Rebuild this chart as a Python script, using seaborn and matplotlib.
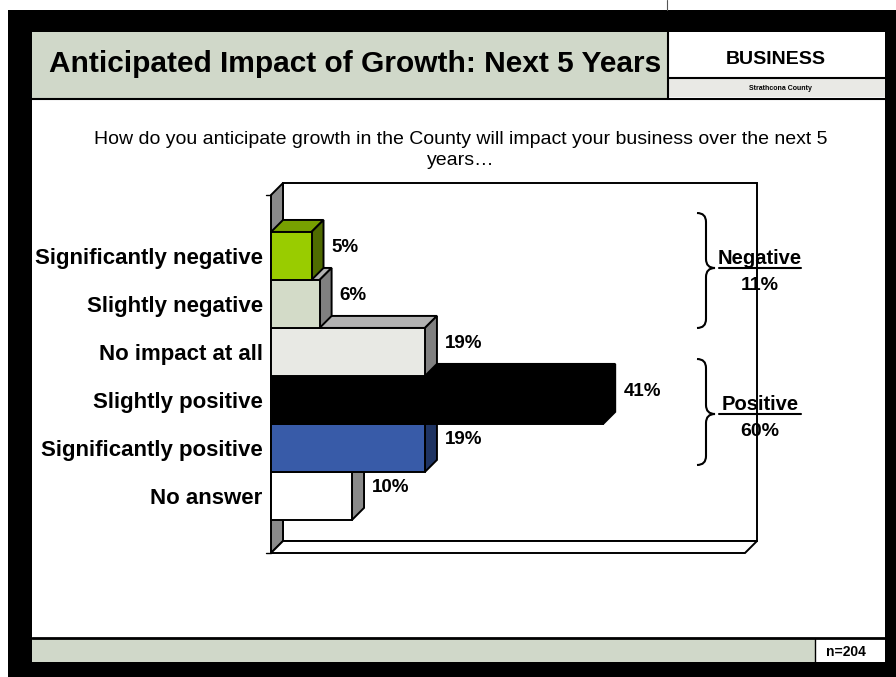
import matplotlib
matplotlib.use("Agg")
import matplotlib.pyplot as plt
import seaborn as sns
import pandas as pd
from matplotlib.patches import Rectangle, Polygon, PathPatch
from matplotlib.path import Path

# data
categories = ["Significantly negative", "Slightly negative", "No impact at all",
              "Slightly positive", "Significantly positive", "No answer"]
percent = [5, 6, 19, 41, 19, 10]
front_colors = ["#99cc00", "#d3dbc8", "#e8e9e4", "#000000", "#385ba8", "#ffffff"]
top_colors = ["#77a000", "#b2b2b2", "#b2b2b2", "#000000", "#2b4784", "#b2b2b2"]
side_colors = ["#4f6b00", "#808080", "#808080", "#000000", "#1f3463", "#8a8a8a"]
group_names = ["Negative", "Positive"]
group_percent = [11, 60]
sample_note = "n=204"

sns.set_theme(style="white")
plt.rcParams["font.family"] = ["Liberation Sans", "DejaVu Sans"]
plt.rcParams["text.color"] = "black"
plt.rcParams["ytick.color"] = "black"
plt.rcParams["xtick.color"] = "black"
plt.rcParams["axes.labelcolor"] = "black"

W, H = 896, 677
fig = plt.figure(figsize=(W / 100, H / 100), dpi=100)

# background / slide frame in pixel coords
deco = fig.add_axes([0, 0, 1, 1], zorder=0)
deco.set_xlim(0, W)
deco.set_ylim(H, 0)
deco.axis("off")


def box(x0, y0, x1, y1, fc, ec="none", lw=0):
    deco.add_patch(Rectangle((x0, y0), x1 - x0, y1 - y0, facecolor=fc, edgecolor=ec, linewidth=lw))


box(8, 10, W, H, "black")
box(32, 32, 885, 662, "white")
box(32, 32, 668, 99, "#d0d8c9")
box(668, 79, 885, 97, "#e9e9e5")
deco.plot([668, 885], [78, 78], color="black", lw=1.5)
deco.plot([32, 885], [99, 99], color="black", lw=1.5)
deco.plot([668, 668], [32, 99], color="black", lw=1.5)
deco.plot([667, 667], [0, 10], color="#555555", lw=0.8)
box(32, 639, 885, 662, "#d0d8c9")
box(815, 639, 885, 662, "white")
deco.plot([32, 885], [638, 638], color="black", lw=2)
deco.plot([815, 815], [639, 662], color="black", lw=1)

deco.text(355, 64, "Anticipated Impact of Growth: Next 5 Years", fontsize=21.5,
          fontweight="bold", ha="center", va="center")
deco.text(776, 60, "BUSINESS", fontsize=14, fontweight="bold", ha="center", va="center")
deco.text(780, 88, "Strathcona County", fontsize=5, fontweight="bold", ha="center", va="center")
deco.text(846, 652, sample_note, fontsize=10, fontweight="bold", ha="center", va="center")
deco.text(461, 150, "How do you anticipate growth in the County will impact your business over the next 5\nyears\u2026",
          fontsize=14, ha="center", va="center", linespacing=1.38)


def brace(x, y0, ym, y1, w=18, r=9):
    verts = [(x, y0), (x + w / 2, y0), (x + w / 2, y0 + r),
             (x + w / 2, ym - r), (x + w / 2, ym), (x + w, ym),
             (x + w / 2, ym), (x + w / 2, ym + r),
             (x + w / 2, y1 - r), (x + w / 2, y1), (x, y1)]
    codes = [Path.MOVETO, Path.CURVE3, Path.CURVE3, Path.LINETO, Path.CURVE3, Path.CURVE3,
             Path.CURVE3, Path.CURVE3, Path.LINETO, Path.CURVE3, Path.CURVE3]
    deco.add_patch(PathPatch(Path(verts, codes), facecolor="none", edgecolor="black", lw=1.5))


brace_spans = [(213, 268, 328), (359, 414, 465)]
for name, val, (y0, ym, y1) in zip(group_names, group_percent, brace_spans):
    brace(697, y0, ym, y1)
    deco.text(760, ym - 10, name, fontsize=14.5, fontweight="bold", ha="center", va="center")
    deco.plot([719, 801], [ym, ym], color="black", lw=1.5)
    deco.text(760, ym + 18, f"{val}%", fontsize=14, fontweight="bold", ha="center", va="center")

# main 3D-looking bar chart
ax = fig.add_axes([271 / W, 1 - 553 / H, 474 / W, 358 / H], zorder=1)
ax.patch.set_alpha(0)
df = pd.DataFrame({"category": categories, "percent": percent})
sns.barplot(data=df, x="percent", y="category", hue="category", palette=front_colors,
            saturation=1, width=1.0, edgecolor="black", linewidth=1.4, legend=False,
            orient="h", ax=ax)

xmax = 58.5
ylo, yhi = -1.27, 6.19
ax.set_xlim(0, xmax)
ax.set_ylim(yhi, ylo)
dx = 12 / 474 * xmax
dy = 12 / 358 * (yhi - ylo)

# walls and floor
ax.add_patch(Polygon([(dx, ylo - dy), (xmax + dx, ylo - dy), (xmax + dx, yhi - dy), (dx, yhi - dy)],
                     closed=True, facecolor="none", edgecolor="black", lw=1.4, clip_on=False, zorder=1))
ax.add_patch(Polygon([(0, ylo), (dx, ylo - dy), (dx, yhi - dy), (0, yhi)],
                     closed=True, facecolor="#8a8a8a", edgecolor="black", lw=1.4, clip_on=False, zorder=1.5))
ax.add_patch(Polygon([(0, yhi), (dx, yhi - dy), (xmax + dx, yhi - dy), (xmax, yhi)],
                     closed=True, facecolor="white", edgecolor="black", lw=1.4, clip_on=False, zorder=1.5))
ax.plot([-0.6, 0], [ylo, ylo], color="black", lw=1, clip_on=False, zorder=2)
ax.plot([-0.6, 0], [yhi, yhi], color="black", lw=1, clip_on=False, zorder=2)

for bar in list(ax.patches):
    if not isinstance(bar, Rectangle):
        continue
    yt = bar.get_y()
    h = bar.get_height()
    idx = int(round(yt + h / 2))
    xr = bar.get_x() + bar.get_width()
    yb = yt + h
    z = 20 - 2 * idx
    bar.set_zorder(z)
    bar.set_clip_on(False)
    ax.add_patch(Polygon([(0, yt), (dx, yt - dy), (xr + dx, yt - dy), (xr, yt)], closed=True,
                         facecolor=top_colors[idx], edgecolor="black", lw=1.4, zorder=z - 0.5, clip_on=False))
    ax.add_patch(Polygon([(xr, yt), (xr + dx, yt - dy), (xr + dx, yb - dy), (xr, yb)], closed=True,
                         facecolor=side_colors[idx], edgecolor="black", lw=1.4, zorder=z - 0.5, clip_on=False))
    ax.text(xr + dx + 1.0, idx - dy / 2 - 0.05, f"{percent[idx]}%", fontsize=13.5,
            fontweight="bold", ha="left", va="center", zorder=30)

ax.set_xticks([])
ax.set_xlabel("")
ax.set_ylabel("")
ax.tick_params(axis="y", length=0, pad=6)
for lab in ax.get_yticklabels():
    lab.set_fontsize(16)
    lab.set_fontweight("bold")
    lab.set_y(lab.get_position()[1])
for s in ax.spines.values():
    s.set_visible(False)

fig.savefig("out.png", dpi=100)
